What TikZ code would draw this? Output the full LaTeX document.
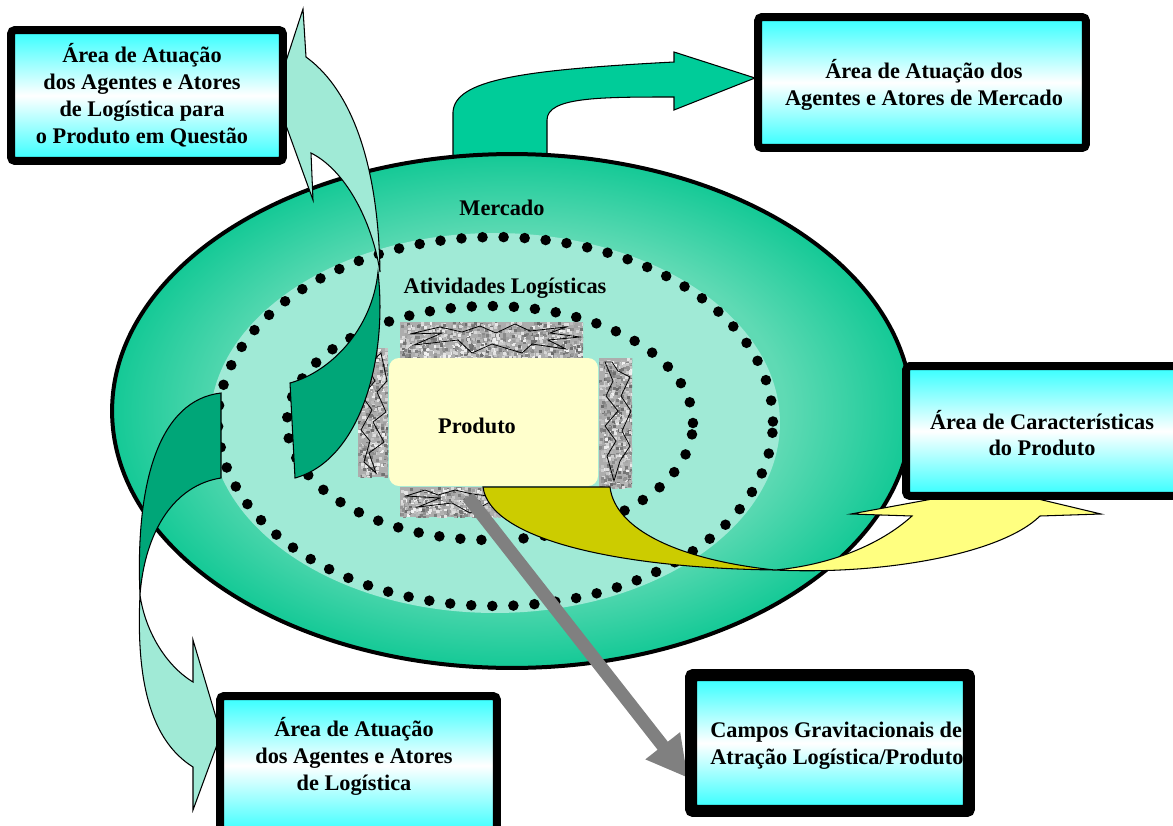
\documentclass[tikz,border=0pt]{standalone}
\usepackage{fontspec}
\setmainfont{Liberation Serif}
\usetikzlibrary{arrows.meta}
\definecolor{darkg}{RGB}{20,201,150}
\definecolor{midg}{RGB}{95,218,180}
\definecolor{lightg}{RGB}{160,234,214}
\definecolor{arrowg}{RGB}{0,204,153}
\definecolor{deepg}{RGB}{0,166,120}
\definecolor{yellowdark}{RGB}{204,204,0}
\definecolor{yellowlight}{RGB}{255,255,128}
\definecolor{prodc}{RGB}{255,255,204}
\definecolor{grayarrow}{RGB}{128,128,128}
\definecolor{cyanc}{RGB}{51,255,255}
\pgfdeclareradialshading{ellshade}{\pgfpoint{0bp}{0bp}}{color(0bp)=(midg); color(17bp)=(midg); color(25bp)=(darkg); color(50bp)=(darkg)}
\newcommand\granitebox[5]{%
  \fill[black!32] (#1,#2) rectangle (#3,#4);
  \begin{scope}
    \clip (#1,#2) rectangle (#3,#4);
    \foreach \i in {1,...,#5}{%
      \pgfmathsetmacro\gx{#1+rnd*(#3-#1)}%
      \pgfmathsetmacro\gy{#2+rnd*(#4-#2)}%
      \pgfmathtruncatemacro\gg{5+rnd*55}%
      \fill[black!\gg] (\gx,\gy) rectangle ++(3,3);
    }
  \end{scope}}
\begin{document}
\begin{tikzpicture}[x=0.02cm, y=-0.02cm,
  lbl/.style={font=\fontsize{12.7}{15.3}\selectfont\bfseries, align=center, inner sep=0pt},
  infobox/.style={draw=black, line width=0.16cm, rounded corners=0.08cm, top color=cyanc, bottom color=cyanc, middle color=white, inner sep=0pt},
  shapeline/.style={draw=black, line width=0.6pt},
  dotring/.style={line width=6pt, line cap=round, dash pattern=on 0pt off 12pt},
  zig/.style={draw=black, line width=0.45pt}
]
\useasboundingbox (0,0) rectangle (1173,825);
\clip (0,0) rectangle (1173,825);

% top green arrow (behind the ellipse)
\path[shapeline, fill=arrowg] (453,175) -- (453,112) .. controls (455,80) and (520,70) .. (674,62) -- (674,52) -- (755,78) -- (674,110) -- (674,97) .. controls (600,97) and (547,97) .. (547,120) -- (547,175) -- cycle;

% market ellipse
\shadedraw[shading=ellshade, line width=0.08cm] (512,411) ellipse [x radius=8cm, y radius=5.14cm];
\fill[lightg] (495,423) ellipse [x radius=5.7cm, y radius=3.8cm];
\draw[dotring] (495.5,421.5) ellipse [x radius=5.55cm, y radius=3.69cm];
\draw[dotring] (490,423) ellipse [x radius=4.06cm, y radius=2.34cm];

\node[lbl] (mercado) at (502,208) {Mercado};
\node[lbl] (ativ) at (505,288) {Atividades Logísticas};

% granite frames
\pgfmathsetseed{4321}
\granitebox{400}{322}{583}{358}{950}
\granitebox{358}{348}{388}{477}{560}
\granitebox{599}{358}{632}{488}{620}
\granitebox{400}{487}{583}{517}{790}
\draw[zig] (410,334) -- (442,333) -- (414,345) -- (458,340) -- (472,353) -- (492,344) -- (522,353) -- (532,344) -- (566,349) -- (548,340) -- (580,337) -- (550,333) -- (566,327) -- (530,331) -- (515,324) -- (496,333) -- (480,326) -- (462,332) -- (440,327) -- cycle;
\draw[zig] (381,353) -- (387,381) -- (377,392) -- (386,412) -- (373,422) -- (384,442) -- (369,453) -- (376,473) -- (364,462) -- (370,441) -- (361,430) -- (372,410) -- (362,396) -- (375,381) -- (367,366) -- cycle;
\draw[zig] (605,362) -- (613,381) -- (606,396) -- (618,411) -- (605,426) -- (616,441) -- (607,456) -- (614,481) -- (620,461) -- (630,446) -- (622,431) -- (631,411) -- (621,396) -- (630,377) -- (618,371) -- (612,362) -- cycle;
\draw[zig] (406,496) -- (440,498) -- (418,507) -- (452,503) -- (470,513) -- (488,503) -- (505,498) -- (472,494) -- (455,490) -- (438,495) -- (425,490) -- cycle;

% product
\fill[prodc, rounded corners=0.2cm] (389,358) rectangle (598,486);
\node[lbl] (produto) at (477,426) {Produto};

% grey arrow to gravitational fields
\coordinate (gs) at (468,497);
\coordinate (ge) at (688,778);
\draw[grayarrow, line width=0.26cm, -{Triangle[length=0.82cm,width=0.82cm]}] (gs) -- (ge);

% yellow twisted arrow
\path[shapeline, fill=yellowlight] (775,570) .. controls (880,575) and (1000,555) .. (1040,516) -- (1101,514) -- (992,488) -- (851,514) -- (912,516) .. controls (880,545) and (830,565) .. (775,570) -- cycle;
\path[shapeline, fill=yellowdark] (483,487) -- (610,487) .. controls (615,530) and (680,560) .. (775,570) .. controls (620,568) and (490,540) .. (483,487) -- cycle;

% upper-left twisted arrow
\path[shapeline, fill=lightg] (303,9) -- (306,57) .. controls (345,85) and (378,150) .. (380,272) .. controls (372,220) and (345,170) .. (311,153) -- (313,200) -- (275,95) -- cycle;
\path[shapeline, fill=deepg] (290,383) .. controls (330,372) and (372,330) .. (378,272) .. controls (388,360) and (360,460) .. (295,478) -- cycle;

% lower-left twisted arrow
\path[shapeline, fill=deepg] (140,595) .. controls (135,480) and (160,400) .. (221,393) -- (221,478) .. controls (175,485) and (145,530) .. (140,595) -- cycle;
\path[shapeline, fill=lightg] (140,595) .. controls (136,680) and (150,740) .. (193,767) -- (193,810) -- (221,734) -- (193,640) -- (193,682) .. controls (165,665) and (145,630) .. (140,595) -- cycle;

% boxes
\node[infobox, minimum width=5.44cm, minimum height=2.62cm] (tlbox) at (147,95.5) {};
\node[lbl] (tltext) at (142,95) {Área de Atuação\\dos Agentes e Atores\\de Logística para\\o Produto em Questão};

\node[infobox, minimum width=6.56cm, minimum height=2.62cm] (trbox) at (922,82.5) {};
\node[lbl] (trtext) at (924,85) {Área de Atuação dos\\Agentes e Atores de Mercado};

\node[infobox, minimum width=5.48cm, minimum height=2.6cm] (rbox) at (1043,431) {};
\node[lbl] (rtext) at (1042,433) {Área de Características\\do Produto};

\node[infobox, minimum width=5.54cm, minimum height=2.78cm] (blbox) at (358.5,765.5) {};
\node[lbl] (bltext) at (354,756) {Área de Atuação\\dos Agentes e Atores\\de Logística};

\node[infobox, minimum width=5.48cm, minimum height=2.64cm] (brbox) at (830,743) {};
\node[lbl, anchor=west, align=left] (brtext) at (710,745.5) {Campos Gravitacionais de\\Atração Logística/Produto};
\draw[black, line width=0.16cm, rounded corners=0.08cm] (brbox.north west) rectangle (brbox.south east);
\end{tikzpicture}
\end{document}
